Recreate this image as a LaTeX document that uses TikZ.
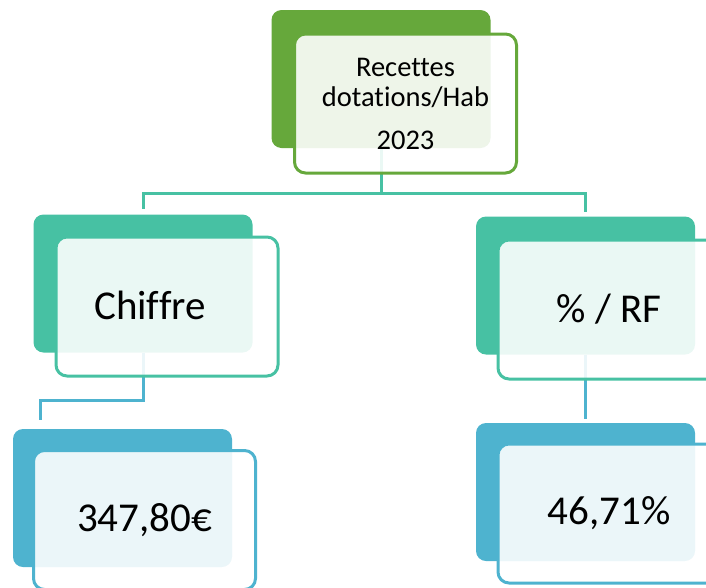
\documentclass[tikz,border=0pt]{standalone}
\usepackage{fontspec}
\setmainfont[Ligatures=NoCommon]{Carlito}

\definecolor{vert}{HTML}{66A83B}
\definecolor{turquoise}{HTML}{47C1A3}
\definecolor{bleu}{HTML}{4EB3CF}

\tikzset{
  fond/.style={rectangle, rounded corners=10pt, fill=#1, inner sep=0pt,
    minimum width=219pt, minimum height=138pt},
  cadre/.style={rectangle, rounded corners=11pt, draw=#1, line width=3pt,
    fill=white, fill opacity=0.89, text opacity=1, inner sep=0pt,
    minimum width=222pt, minimum height=139pt},
  lien/.style={draw=#1, line width=3pt},
  grand/.style={font=\fontsize{41}{49}\selectfont},
}

\begin{document}
\begin{tikzpicture}[x=1pt,y=-1pt]
                          \tikzstyle{every node}+=[inner sep=0pt]
                          \clip (0,0) rectangle (706,587);
                          % fonds pleins
                          \node[fond=vert] (rec-b) at (381,79) {};
                          \node[fond=turquoise] (chiffre-b) at (143,283.5) {};
                          \node[fond=turquoise] (pct-b) at (585.5,285.5) {};
                          \node[fond=bleu] (montant-b) at (122.5,498) {};
                          \node[fond=bleu] (taux-b) at (585.5,492) {};
                          \coordinate (montant-in) at (40,420);
                          % liaisons
                          \draw[lien=turquoise] (rec-b.south) -- ++(0,45) -| ([yshift=5pt]chiffre-b.north);
                          \draw[lien=turquoise] (rec-b.south) -- ++(0,45) -| ([yshift=4pt]pct-b.north);
                          \draw[lien=bleu] (chiffre-b.south) -- ++(0,48) -| (montant-in);
                          \draw[lien=bleu, shorten >=4pt] (pct-b.south) -- (taux-b.north);
                          % cadres clairs
                          \node[cadre=vert, align=center, font=\fontsize{28.5}{30}\selectfont] (rec) at (405.5,103.5)
                            {Recettes\\dotations/Hab\\[13pt]2023};
                          \node[cadre=turquoise] (chiffre) at (167,306.5) {};
                          \node[cadre=turquoise, grand] (pct) at (609,309.5) {\% / RF};
                          \node[cadre=bleu, grand] (montant) at (144.5,520) {347,80€};
                          \node[cadre=bleu, grand] (taux) at (609,513.5) {46,71\%};
                          \node[grand] (chiffre-t) at (150,305) {Chiffre};
                      \end{tikzpicture}
\end{document}
